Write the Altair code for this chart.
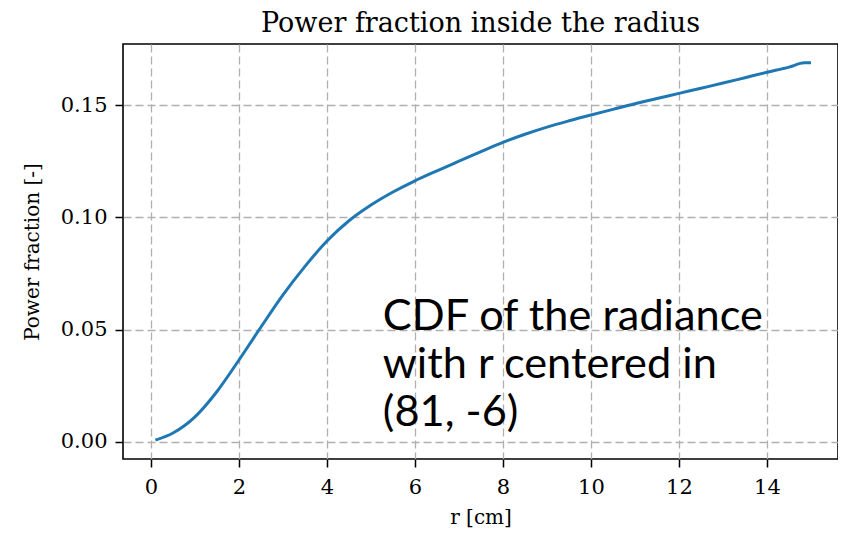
import altair as alt
import pandas as pd

# Data
r_cm = [0.1, 0.5, 1.0, 1.5, 2.0, 2.5, 3.0, 3.5, 4.0, 4.5, 5.0, 5.5, 6.0, 6.5,
        7.0, 7.5, 8.0, 8.5, 9.0, 9.5, 10.0, 10.5, 11.0, 11.5, 12.0, 12.5,
        13.0, 13.5, 14.0, 14.5, 14.85, 15.0]
power_fraction = [0.0008, 0.0040, 0.0112, 0.0225, 0.0365, 0.0512, 0.0655,
                  0.0782, 0.0895, 0.0985, 0.1055, 0.1113, 0.1163, 0.1207,
                  0.1250, 0.1293, 0.1334, 0.1370, 0.1402, 0.1430, 0.1456,
                  0.1481, 0.1506, 0.1529, 0.1552, 0.1575, 0.1598, 0.1622,
                  0.1646, 0.1669, 0.1688, 0.1688]

x_ticks = [0, 2, 4, 6, 8, 10, 12, 14]
y_ticks = [0.00, 0.05, 0.10, 0.15]

note_lines = ["CDF of the radiance", "with r centered in", "(81, -6)"]
note_x = [5.27]
note_y = [0.0500]

df = pd.DataFrame({"r": r_cm, "p": power_fraction})
note_df = pd.DataFrame({"x": note_x, "y": note_y, "t": [note_lines]})

serif = "DejaVu Serif"

xscale = alt.Scale(domain=[-0.636, 15.614], nice=False, zero=False)
yscale = alt.Scale(domain=[-0.00757, 0.1772], nice=False, zero=False)

xaxis = alt.Axis(values=x_ticks, format="d", title="r [cm]", grid=True,
                 gridDash=[8, 4], gridColor="#b0b0b0", gridWidth=1.3,
                 domain=False, tickColor="black", tickSize=8, tickWidth=1.5,
                 labelFont=serif, labelFontSize=21, labelColor="black",
                 labelPadding=9, titleFont=serif, titleFontSize=20,
                 titleFontWeight="normal", titleColor="black", titlePadding=10)
yaxis = alt.Axis(values=y_ticks, format=".2f", title="Power fraction [-]",
                 grid=True, gridDash=[8, 4], gridColor="#b0b0b0", gridWidth=1.3,
                 domain=False, tickColor="black", tickSize=8, tickWidth=1.5,
                 labelFont=serif, labelFontSize=21, labelColor="black",
                 labelPadding=8, titleFont=serif, titleFontSize=20,
                 titleFontWeight="normal", titleColor="black", titlePadding=18)

line = alt.Chart(df).mark_line(color="#1f77b4", strokeWidth=3,
                               interpolate="monotone").encode(
    x=alt.X("r:Q", scale=xscale, axis=xaxis),
    y=alt.Y("p:Q", scale=yscale, axis=yaxis),
)

note = alt.Chart(note_df).mark_text(
    font="Lato", fontSize=43.3, align="left", baseline="alphabetic",
    lineHeight=48, color="black"
).encode(x=alt.X("x:Q", scale=xscale), y=alt.Y("y:Q", scale=yscale), text="t")

chart = alt.layer(line, note).properties(
    width=715, height=415,
    title=alt.TitleParams("Power fraction inside the radius", font=serif,
                          fontSize=27, fontWeight="normal", color="black",
                          offset=6),
    autosize=alt.AutoSizeParams(type="none"),
    padding={"left": 115, "top": 36, "right": 0, "bottom": 73},
).configure(
    background="white",
    view=alt.ViewConfig(stroke="black", strokeWidth=1.6),
)

chart.save("out.html", embed_options={"renderer": "svg", "actions": False})
